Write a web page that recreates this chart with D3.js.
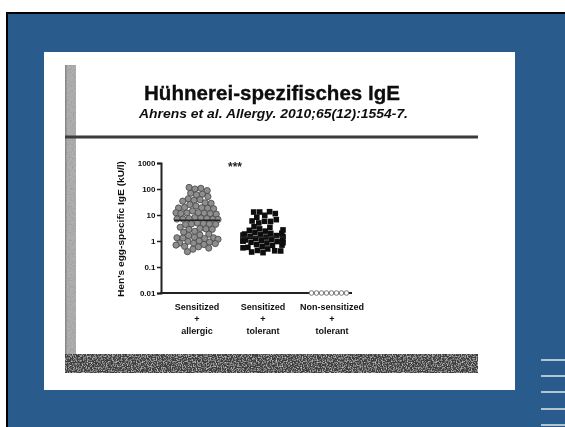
<!DOCTYPE html>
<html>
<head>
<meta charset="utf-8">
<script src="https://cdn.jsdelivr.net/npm/d3@7"></script>
<style>
  html, body { margin: 0; padding: 0; background: #fff; }
  svg { display: block; }
  text { font-family: "Liberation Sans", Arial, sans-serif; }
</style>
</head>
<body>
<svg id="slide" width="565" height="427"></svg>
<script>
// ---- data -------------------------------------------------------------
const groups = ["allergic", "tolerant", "nonSensitized"];
const groupLabels = [
  ["Sensitized", "+", "allergic"],
  ["Sensitized", "+", "tolerant"],
  ["Non-sensitized", "+", "tolerant"]
];
// egg-specific IgE, kU/l
const allergicValues = [
  110, 95, 85, 80, 70, 65, 55, 50, 45, 40, 38, 35, 30, 28, 25,
  22, 20, 18, 17, 16, 15, 14, 13, 12.5, 12, 11, 10.5, 10, 9.5, 9, 8.5, 8,
  7.5, 7, 6.8, 6.5, 6, 5.5, 5, 4.8, 4.5, 4.2, 4, 3.8, 3.5, 3.2, 3, 2.8,
  2.2, 2, 1.8, 1.6, 1.5, 1.4, 1.3, 1.25, 1.2, 1.15, 1.1, 1.05, 1, 0.95,
  0.9, 0.85, 0.8, 0.75, 0.72, 0.7, 0.65, 0.6, 0.55, 0.5
];
const tolerantValues = [
  13, 12.5, 12, 11.5, 10, 7, 6.5, 6, 5.8, 5.5, 5,
  3.5, 3, 2.8, 2.5, 2.3, 2.2, 2, 1.9, 1.8, 1.7, 1.6, 1.55, 1.5, 1.45, 1.4,
  1.35, 1.3, 1.25, 1.2, 1.15, 1.1, 1.05, 1, 0.95, 0.9, 0.85, 0.8, 0.78,
  0.75, 0.7, 0.65, 0.62, 0.6, 0.55, 0.5, 0.48, 0.45, 0.42, 0.4
];
const nonSensitizedValues = [0.01, 0.01, 0.01, 0.01, 0.01, 0.01, 0.01, 0.01];
const yTicks = [0.01, 0.1, 1, 10, 100, 1000];
const yTickLabels = ["0.01", "0.1", "1", "10", "100", "1000"];
const title = "Hühnerei-spezifisches IgE";
const citation = "Ahrens et al. Allergy. 2010;65(12):1554-7.";
const yAxisTitle = "Hen's egg-specific IgE (kU/l)";
const significance = "***";

// ---- slide frame -----------------------------------------------------
const svg = d3.select("#slide");
const defs = svg.append("defs");

defs.append("filter").attr("id", "soft")
  .attr("x", "-5%").attr("y", "-5%").attr("width", "110%").attr("height", "110%")
  .append("feGaussianBlur").attr("stdDeviation", 0.7);

function grain(id, seed, freq, a, b, color) {
  const f = defs.append("filter").attr("id", id)
    .attr("x", 0).attr("y", 0).attr("width", "100%").attr("height", "100%");
  f.append("feTurbulence").attr("type", "fractalNoise")
    .attr("baseFrequency", freq).attr("numOctaves", 2).attr("seed", seed).attr("result", "t");
  f.append("feColorMatrix").attr("in", "t").attr("type", "matrix")
    .attr("values", `0 0 0 0 ${color} 0 0 0 0 ${color} 0 0 0 0 ${color} 0 0 0 ${a} ${b}`)
    .attr("result", "spots");
  f.append("feComposite").attr("in", "spots").attr("in2", "SourceGraphic")
    .attr("operator", "in").attr("result", "clip");
  const m = f.append("feMerge");
  m.append("feMergeNode").attr("in", "SourceGraphic");
  m.append("feMergeNode").attr("in", "clip");
}
grain("grainDark", 4, 0.75, -2.4, 1.35, 0.3);
grain("grainLight", 9, 0.8, -2.2, 1.2, 0.7);

svg.append("rect").attr("x", 0).attr("y", 0).attr("width", 565).attr("height", 427).attr("fill", "#fff");
svg.append("rect").attr("x", 6).attr("y", 12).attr("width", 559).attr("height", 415).attr("fill", "#000");
svg.append("rect").attr("x", 8).attr("y", 14).attr("width", 557).attr("height", 413).attr("fill", "#295c8c");

// decorative rules at the lower right
const ruleYs = [360, 376, 392, 409, 425];
svg.selectAll("line.rule").data(ruleYs).join("line")
  .attr("class", "rule")
  .attr("x1", 541).attr("x2", 565)
  .attr("y1", d => d).attr("y2", d => d)
  .attr("stroke", "#dfe6ee").attr("stroke-width", 1.5);

// white card holding the figure
svg.append("rect").attr("x", 44).attr("y", 52).attr("width", 471).attr("height", 338).attr("fill", "#fff");

// ---- scanned page decorations ----------------------------------------
const page = svg.append("g").attr("filter", "url(#soft)");
page.append("rect").attr("x", 65).attr("y", 65).attr("width", 11).attr("height", 308)
  .attr("fill", "#b0b0b0").attr("filter", "url(#grainDark)");
page.append("rect").attr("x", 65).attr("y", 65).attr("width", 1.5).attr("height", 308)
  .attr("fill", "#888");
page.append("rect").attr("x", 65).attr("y", 135.5).attr("width", 413).attr("height", 3)
  .attr("fill", "#3a3a3a");
page.append("rect").attr("x", 65).attr("y", 354).attr("width", 413).attr("height", 19)
  .attr("fill", "#3e3e3e").attr("filter", "url(#grainLight)");

// ---- titles ------------------------------------------------------------
page.append("text").text(title)
  .attr("x", 144).attr("y", 100)
  .attr("textLength", 256).attr("lengthAdjust", "spacingAndGlyphs")
  .attr("font-size", 20.5).attr("font-weight", "bold").attr("fill", "#0a0a0a")
  .attr("stroke", "#0a0a0a").attr("stroke-width", 0.3);
page.append("text").text(citation)
  .attr("x", 139).attr("y", 118)
  .attr("textLength", 269).attr("lengthAdjust", "spacingAndGlyphs")
  .attr("font-size", 12.5).attr("font-weight", "bold").attr("font-style", "italic").attr("fill", "#111");

// ---- chart -------------------------------------------------------------
const chart = page.append("g");
const y = d3.scaleLog().domain([0.01, 1000]).range([293, 163]);
const x = d3.scalePoint().domain(groups).range([197, 329]);

const yAxis = d3.axisLeft(y).tickValues(yTicks)
  .tickFormat((d, i) => yTickLabels[i]).tickSize(4).tickPadding(1.5);
const ax = chart.append("g").attr("transform", "translate(161,0)").call(yAxis);
ax.select(".domain").attr("stroke", "#222").attr("stroke-width", 2);
ax.selectAll(".tick line").attr("stroke", "#222").attr("stroke-width", 1.5);
ax.selectAll(".tick text").attr("font-size", 8).attr("font-weight", "bold")
  .attr("fill", "#111").attr("font-family", "Liberation Sans, Arial, sans-serif");

// x axis baseline at 0.01
chart.append("line").attr("x1", 160).attr("x2", 352)
  .attr("y1", y(0.01)).attr("y2", y(0.01))
  .attr("stroke", "#222").attr("stroke-width", 2);

chart.append("text").text(yAxisTitle)
  .attr("transform", "translate(124,229) rotate(-90)")
  .attr("text-anchor", "middle")
  .attr("textLength", 136).attr("lengthAdjust", "spacingAndGlyphs")
  .attr("font-size", 8.5).attr("font-weight", "bold").attr("fill", "#111");

chart.append("text").text(significance)
  .attr("x", 235).attr("y", 171).attr("text-anchor", "middle")
  .attr("font-size", 12).attr("font-weight", "bold").attr("fill", "#222");

// category labels
groupLabels.forEach((lines, gi) => {
  const t = chart.append("text").attr("text-anchor", "middle")
    .attr("font-size", 9).attr("font-weight", "bold").attr("fill", "#111");
  lines.forEach((ln, li) => {
    t.append("tspan").attr("x", x(groups[gi]) + (gi === 2 ? 3 : 0))
      .attr("y", 310 + li * 12).text(ln);
  });
});

// swarm layout: each point keeps its value height, collisions push it sideways
function swarm(values, centre, radius, halfW) {
  const nodes = values.map((v, i) => ({
    v, ty: y(v), x: centre + ((i * 7) % 11 - 5) * 1.5, y: y(v)
  }));
  const sim = d3.forceSimulation(nodes)
    .force("x", d3.forceX(centre).strength(0.04))
    .force("y", d3.forceY(d => d.ty).strength(0.9))
    .force("collide", d3.forceCollide(radius).iterations(3))
    .stop();
  for (let k = 0; k < 300; k++) sim.tick();
  nodes.forEach(n => { n.x = Math.max(centre - halfW, Math.min(centre + halfW, n.x)); });
  return nodes;
}

const allergicPts = swarm(allergicValues, x("allergic"), 3.0, 21);
chart.selectAll("circle.allergic").data(allergicPts).join("circle")
  .attr("class", "allergic")
  .attr("cx", d => d.x).attr("cy", d => d.y).attr("r", 3.1)
  .attr("fill", "#8e8e8e").attr("stroke", "#4d4d4d").attr("stroke-width", 0.9);

const tolerantPts = swarm(tolerantValues, x("tolerant"), 3.0, 20);
chart.selectAll("rect.tolerant").data(tolerantPts).join("rect")
  .attr("class", "tolerant")
  .attr("x", d => d.x - 2.8).attr("y", d => d.y - 2.8)
  .attr("width", 5.6).attr("height", 5.6).attr("fill", "#111");

const nonPts = nonSensitizedValues.map((v, i) => ({ v, i }));
chart.selectAll("circle.non").data(nonPts).join("circle")
  .attr("class", "non")
  .attr("cx", d => x("nonSensitized") + (d.i - (nonPts.length - 1) / 2) * 5)
  .attr("cy", d => y(d.v)).attr("r", 2.3)
  .attr("fill", "#fff").attr("stroke", "#777").attr("stroke-width", 1);

// median bars
const medians = [
  { g: "allergic", m: d3.median(allergicValues) },
  { g: "tolerant", m: d3.median(tolerantValues) }
];
chart.selectAll("line.median").data(medians).join("line")
  .attr("class", "median")
  .attr("x1", d => x(d.g) - 23).attr("x2", d => x(d.g) + 23)
  .attr("y1", d => y(d.m)).attr("y2", d => y(d.m))
  .attr("stroke", "#222").attr("stroke-width", 1.6);
</script>
</body>
</html>
